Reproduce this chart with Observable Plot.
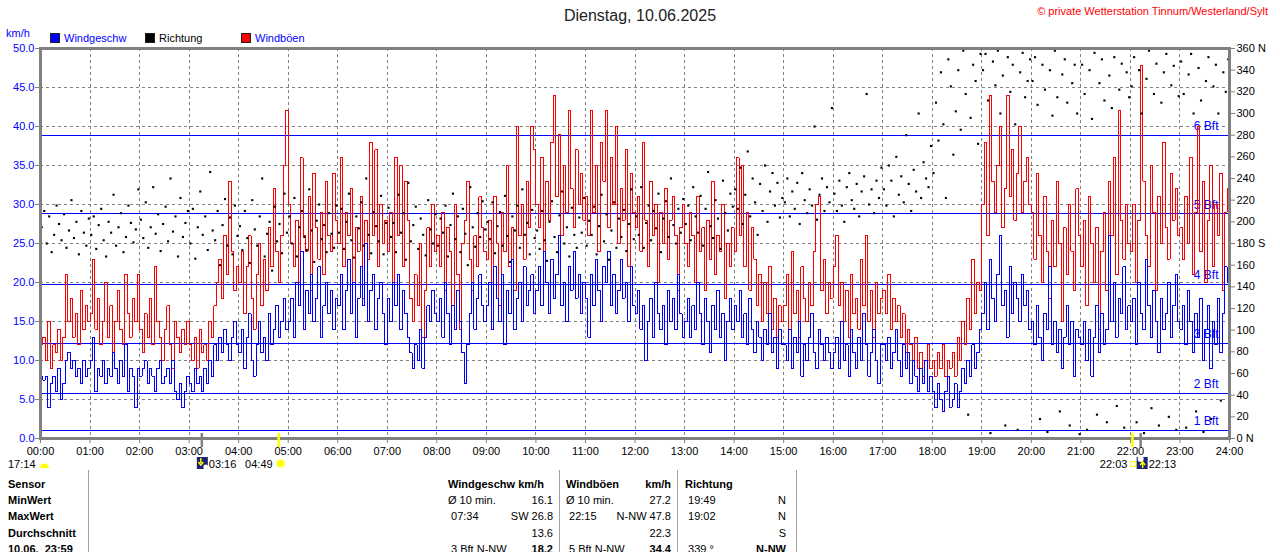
<!DOCTYPE html>
<html><head><meta charset="utf-8">
<script src="https://cdn.jsdelivr.net/npm/d3@7"></script>
<script src="https://cdn.jsdelivr.net/npm/@observablehq/plot@0.6"></script>
<style>
html,body{margin:0;padding:0;background:#fff;}
#chart{position:relative;width:1280px;height:552px;overflow:hidden;}
</style></head><body><div id="chart"></div>
<script>
const FONT = '"Liberation Sans", Arial, sans-serif';
const stepMin = 3; // one reading every 3 minutes

// Windgeschwindigkeit km/h (20 values per hour)
const windSpeed = [
8,7.5,8,4,7,8,6,9,5,7,10,11,9,10,8,9,7,10,8,9,
10,13,6,9,8,10,7,9,8,11,9,7,10,8,12,6,9,8,4,9,
8,9,10,7,9,8,6,9,10,7,8,9,7,10,6,5,7,4,6,8,
7,6,9,7,8,6,9,7,10,8,12,10,13,11,14,12,10,13,15,12,
11,14,9,13,16,10,8,12,15,11,13,10,16,12,14,17,13,15,18,14,
15,18,13,20,17,24,14,19,16,21,15,18,22,13,17,20,16,19,14,18,
17,21,14,19,23,16,20,13,18,22,17,25,15,19,21,14,18,20,16,12,
18,15,20,17,21,14,19,16,13,11,9,12,10,14,9,13,17,15,19,16,
15,18,13,20,16,12,17,14,19,15,11,7,12,16,20,14,18,21,17,15,
17,20,14,22,18,15,21,12,19,16,23,14,18,20,15,22,17,19,21,16,
19,22,17,24,20,16,23,18,21,26,17,20,15,22,19,24,18,21,16,20,
18,13,21,17,23,19,15,22,20,24,17,21,16,19,23,18,20,15,22,17,
16,19,14,17,10,15,18,13,20,16,14,17,12,19,15,18,14,21,16,13,
15,18,13,17,14,20,16,12,18,15,11,17,14,19,13,16,10,15,18,14,
17,15,19,13,16,12,18,14,11,15,13,10,14,12,16,11,13,9,14,12,
12,10,14,9,13,11,15,8,12,10,13,16,11,9,14,12,10,13,11,9,
11,13,9,15,10,12,8,14,11,9,13,10,16,12,8,11,14,10,7,12,
12,10,13,9,11,14,10,8,12,9,11,7,10,8,6,9,7,10,6,8,
6,4,7,5,3.5,6,8,4,5,7,4,6,9,7,10,8,12,9,11,14,
16,20,14,23,18,15,21,26,17,19,13,22,16,20,18,15,21,17,19,14,
15,12,17,13,10,16,14,22,12,15,11,14,9,13,17,12,15,8,14,13,
12,15,10,14,8,13,17,11,16,12,14,26,15,20,13,18,16,22,14,17,
15,18,12,20,16,14,23,17,13,19,15,11,18,14,16,20,13,17,21,15,
14,17,12,19,15,11,16,13,18,10,14,17,9,15,12,18,11,16,22,20
];

// Windböen km/h
const windGust = [
12,13,10,15,9,12,11,14,10,13,21,15,18,13,16,12,19,14,17,15,
16,23,14,18,12,15,20,13,17,11,15,19,14,12,21,16,13,18,15,21,
14,11,16,13,18,12,22,15,13,10,14,17,12,9,15,13,11,14,12,15,
12,10,13,9,14,11,12,10,15,13,17,20,23,18,26,21,33,24,19,22,
20,24,16,22,26,18,14,21,25,17,23,19,27,22,32,24,20,26,35,42,
30,25,22,28,20,36,26,24,31,19,34,27,23,29,21,33,26,24,34,28,
25,36,22,29,26,32,20,27,24,31,18,28,23,38,26,37,22,30,25,28,
24,29,20,36,26,35,22,33,28,18,15,21,17,25,13,19,27,22,30,24,
26,22,29,19,27,24,17,30,21,14,25,28,33,23,19,26,22,31,27,24,
23,28,20,31,25,17,29,24,35,22,27,19,40,26,30,23,33,27,40,37,
30,27,36,24,33,28,38,44,31,39,26,35,29,42,32,27,37,30,34,28,
31,26,42,29,35,24,38,33,42,27,36,30,40,25,32,28,37,22,34,29,
27,31,24,38,28,22,33,26,30,20,29,25,32,23,28,31,26,19,27,30,
25,22,29,26,20,31,24,27,19,28,23,33,21,26,24,30,18,25,22,27,
24,36,26,35,22,29,19,27,23,17,21,15,20,16,22,14,18,13,17,15,
17,21,14,24,16,19,13,22,18,15,20,17,24,30,31,19,23,16,20,18,
22,26,17,20,15,19,13,21,16,18,14,23,17,26,15,19,13,20,16,18,
19,16,21,14,18,15,17,13,16,11,14,12,10,13,9,11,8,10,12,9,
10,8,11,9,12,8,10,9,11,8,13,10,15,12,18,14,23,16,20,19,
30,38,26,44,33,29,35,40,27,32,44,31,37,28,34,40,29,33,36,30,
29,23,34,26,20,31,24,18,28,22,33,25,15,27,21,30,24,19,32,26,
22,28,17,31,25,20,27,14,24,29,19,33,26,36,21,42,28,23,30,25,
24,30,20,28,47.8,33,26,22,35,29,19,31,25,38,27,23,34,28,32,26,
27,23,31,25,36,21,29,40,24,33,20,28,35,22,30,26,34,19,29,32
];

// Windrichtung Grad
const windDir = [
195,210,180,205,172,188,215,198,183,207,176,192,220,185,200,170,210,190,178,203,
188,205,175,197,212,183,168,200,190,225,178,195,208,172,186,215,199,181,193,230,
202,185,218,176,195,232,189,207,173,198,214,182,240,191,205,168,222,186,199,210,
180,212,166,195,228,188,205,174,246,192,183,210,160,197,221,178,204,170,215,187,
196,174,210,185,162,220,193,178,205,240,168,189,200,155,214,182,198,171,226,190,
205,180,222,168,195,210,186,174,230,192,163,201,216,184,197,172,208,189,176,215,
190,212,175,200,226,183,167,205,194,218,178,240,188,171,209,196,182,224,170,199,
213,186,199,172,225,190,208,165,236,182,197,214,175,203,188,169,220,193,180,207,
178,203,190,215,168,197,226,184,205,172,212,189,160,232,195,177,208,186,219,193,
200,184,218,171,196,209,178,224,187,163,205,192,215,176,230,188,199,170,211,185,
192,175,210,183,164,200,219,186,172,206,228,180,195,168,213,188,176,204,190,222,
178,201,188,214,170,196,225,182,207,165,192,218,176,203,186,211,173,198,230,184,
205,188,232,176,199,215,183,210,194,226,172,203,219,186,240,197,180,212,190,221,
198,215,183,232,205,190,224,178,212,246,196,185,220,203,175,238,208,192,226,214,
230,212,250,198,225,265,205,240,218,188,235,210,252,200,228,245,215,236,204,222,
218,240,205,228,212,236,198,245,220,208,230,215,288,202,225,240,210,232,218,305,
226,210,238,215,200,232,245,220,212,235,205,228,242,318,216,230,208,238,222,250,
230,215,252,238,205,260,225,242,218,280,235,210,248,228,300,222,255,240,232,270,
245,310,275,338,290,222,350,325,262,302,340,285,358,318,22,296,345,330,272,355,
340,355,312,5,348,326,358,300,335,12,352,320,345,290,8,338,356,315,330,350,
330,352,308,18,345,322,6,340,298,358,315,25,336,350,310,12,328,345,300,4,
345,318,8,340,295,356,22,328,350,312,15,335,305,352,30,322,346,10,338,315,
325,352,15,340,300,5,332,358,28,318,346,12,310,338,355,20,326,344,8,316,
348,318,10,336,355,300,25,342,312,6,330,352,18,325,345,300,35,338,320,350
];

const hourTicks = d3.range(0, 1441, 60);
const kmhTicks = d3.range(0, 51, 5);
const dirTicks = d3.range(0, 361, 20);
const bftLevels = [1.08, 5.76, 12.24, 19.8, 28.8, 38.88];
const bftLabels = ["1 Bft", "2 Bft", "3 Bft", "4 Bft", "5 Bft", "6 Bft"];

const astroTimes = ["03:16", "04:49", "22:03", "22:13"];
const astroColors = ["#808080", "#ffff00", "#ffff00", "#808080"];

const titleText = "Dienstag, 10.06.2025";
const creditText = "© private Wetterstation Tinnum/Westerland/Sylt";
const legendNames = ["Windgeschw", "Richtung", "Windböen"];
const legendColors = ["#0000ff", "#000000", "#ff0000"];
const legendTextColors = ["#0000ff", "#000000", "#0000ff"];

const rowLabels = ["Sensor", "MinWert", "MaxWert", "Durchschnitt", "10.06.  23:59"];
const speedCol = {head: ["Windgeschw km/h", ""], left: ["Ø 10 min.", " 07:34", "", " 3 Bft N-NW"], right: ["16.1", "SW 26.8", "13.6", "18.2"]};
const gustCol = {head: ["Windböen", "km/h"], left: ["Ø 10 min.", " 22:15", "", " 5 Bft N-NW"], right: ["27.2", "N-NW 47.8", "22.3", "34.4"]};
const dirCol = {head: ["Richtung", ""], left: [" 19:49", " 19:02", "", " 339 °"], right: ["N", "N", "S", "N-NW"]};

const DIR_PER_KMH = 360 / 50;
const pad = n => String(n).padStart(2, "0");
const fmtTime = m => pad(Math.floor(m / 60)) + ":" + pad(m % 60);
const parseTime = s => { const [h, m] = s.split(":").map(Number); return h * 60 + m; };

const rows = windSpeed.map((v, i) => ({t: i * stepMin, speed: v, gust: windGust[i], dir: windDir[i]}));
const last = rows[rows.length - 1];
const lineRows = rows.concat([{t: 1440, speed: last.speed, gust: last.gust}]);

const chart = Plot.plot({
  width: 1280, height: 552,
  marginLeft: 40, marginRight: 51, marginTop: 48, marginBottom: 114,
  style: {fontFamily: FONT, fontSize: "11px", background: "#fff", color: "#000", overflow: "visible"},
  x: {domain: [0, 1440], axis: null, label: null},
  y: {domain: [0, 50], axis: null, label: null},
  marks: [
    Plot.gridX(hourTicks.slice(1, -1), {stroke: "#808080", strokeOpacity: 1, strokeDasharray: "3,3", shapeRendering: "crispEdges"}),
    Plot.gridY(kmhTicks.slice(1, -1), {stroke: "#808080", strokeOpacity: 1, strokeDasharray: "3,3", shapeRendering: "crispEdges"}),
    Plot.text(bftLevels, {x: 1440, y: d => d, text: (d, i) => bftLabels[i], textAnchor: "end", dx: -11, dy: -9, fill: "#0000ff", fontSize: 12}),
    Plot.ruleY(bftLevels, {stroke: "#0000ff", strokeWidth: 1, shapeRendering: "crispEdges"}),
    Plot.line(lineRows, {x: "t", y: "gust", curve: "step-after", stroke: "#ff0000", strokeWidth: 1, shapeRendering: "crispEdges"}),
    Plot.line(lineRows, {x: "t", y: "speed", curve: "step-after", stroke: "#0000ff", strokeWidth: 1, shapeRendering: "crispEdges"}),
    Plot.dot(rows, {x: d => d.t + 1.5, y: d => d.dir / DIR_PER_KMH, symbol: "square", r: 1.2, fill: "#000"}),
    Plot.frame({stroke: "#808080", strokeWidth: 3}),
    Plot.axisY(kmhTicks, {anchor: "left", tickFormat: d => d.toFixed(1), tickSize: 5, tickPadding: 1, fill: "#0000ff", stroke: "#808080", fontSize: 11}),
    Plot.axisY(dirTicks.map(d => d / DIR_PER_KMH), {anchor: "right", tickSize: 5, tickPadding: 2, fill: "#000", stroke: "#808080", fontSize: 11,
      tickFormat: v => { const d = Math.round(v * DIR_PER_KMH); return (d === 0 || d === 360) ? d + " N" : d === 180 ? "180 S" : String(d); }}),
    Plot.axisX(hourTicks, {anchor: "bottom", tickFormat: fmtTime, tickSize: 5, tickPadding: 4, fill: "#000", stroke: "#808080", fontSize: 11})
  ]
});
document.getElementById("chart").appendChild(chart);

const xs = chart.scale("x"), ys = chart.scale("y");
const X = t => xs.apply(t), Y = v => ys.apply(v);
const svg = d3.select(chart);
const g = svg.append("g").attr("font-family", FONT).attr("font-size", 11);
function txt(x, y, s, o = {}) {
  const t = g.append("text").attr("x", x).attr("y", y).attr("fill", o.fill || "#000")
    .attr("text-anchor", o.anchor || "start").attr("font-size", o.size || 11)
    .style("white-space", "pre").attr("xml:space", "preserve").text(s);
  if (o.bold) t.attr("font-weight", "bold");
  return t;
}

// header
txt(640, 21, titleText, {anchor: "middle", size: 16, fill: "#222"});
txt(1268, 15, creditText, {anchor: "end", fill: "#ff0000"});
txt(6, 37, "km/h", {fill: "#0000ff"});
const legX = [50, 145, 241];
legendNames.forEach((n, i) => {
  g.append("rect").attr("x", legX[i] + 0.5).attr("y", 33.5).attr("width", 9).attr("height", 9)
    .attr("fill", legendColors[i]).attr("stroke", "#202020").attr("stroke-width", 1);
  txt(legX[i] + 14, 42, n, {fill: legendTextColors[i]});
});

// astro markers on time axis
const y0 = Y(0);
astroTimes.forEach((s, i) => {
  const xx = X(parseTime(s));
  g.append("line").attr("x1", xx).attr("x2", xx).attr("y1", y0 - 5).attr("y2", y0 + 9)
    .attr("stroke", astroColors[i]).attr("stroke-width", 2.5);
});
const rowY = y0 + 30;
txt(8, rowY, "17:14");
g.append("path").attr("d", `M40,${rowY} a4.5,4.5 0 0 1 9,0 z`).attr("fill", "#ffff00");
// moon icon 03:16
{
  const xx = X(parseTime(astroTimes[0]));
  g.append("rect").attr("x", xx - 5).attr("y", rowY - 11).attr("width", 11).attr("height", 12).attr("fill", "#1c2470");
  g.append("path").attr("d", `M${xx - 1},${rowY - 10} v5 M${xx - 3.5},${rowY - 6} l2.5,3 l2.5,-3`).attr("stroke", "#ffff00").attr("stroke-width", 1.5).attr("fill", "none");
  g.append("circle").attr("cx", xx + 4).attr("cy", rowY - 1).attr("r", 2.5).attr("fill", "#fff");
  txt(xx + 7, rowY, astroTimes[0]);
}
// sun icon 04:49
{
  const xx = X(parseTime(astroTimes[1]));
  txt(xx - 6, rowY, astroTimes[1], {anchor: "end"});
  g.append("circle").attr("cx", xx + 2).attr("cy", rowY - 4.5).attr("r", 5).attr("fill", "#ffffb0");
  g.append("circle").attr("cx", xx + 2).attr("cy", rowY - 4.5).attr("r", 3.5).attr("fill", "#ffff00");
}
// sunset 22:03 and moon 22:13
{
  const xa = X(parseTime(astroTimes[2]));
  txt(xa - 5, rowY, astroTimes[2], {anchor: "end"});
  g.append("rect").attr("x", xa - 1.5).attr("y", rowY - 6.5).attr("width", 5).attr("height", 5).attr("fill", "none").attr("stroke", "#ffff00");
  const xb = X(parseTime(astroTimes[3]));
  g.append("rect").attr("x", xb - 4).attr("y", rowY - 11).attr("width", 11).attr("height", 12).attr("fill", "#1c2470");
  g.append("circle").attr("cx", xb).attr("cy", rowY - 9).attr("r", 3).attr("fill", "#fff");
  g.append("path").attr("d", `M${xb + 2},${rowY} v-5 M${xb - 0.5},${rowY - 3} l2.5,-3 l2.5,3`).attr("stroke", "#ffff00").attr("stroke-width", 1.5).attr("fill", "none");
  txt(xb + 8, rowY, astroTimes[3]);
}

// table
const tTop = y0 + 32, rowH = 16.2, base0 = y0 + 50;
[88, 559, 677, 796].forEach(x => {
  g.append("line").attr("x1", x + 0.5).attr("x2", x + 0.5).attr("y1", tTop).attr("y2", 552).attr("stroke", "#a0a0a0").attr("stroke-width", 1);
});
rowLabels.forEach((s, i) => txt(8, base0 + i * rowH, s, {bold: true}));
function column(col, xl, xr) {
  txt(xl, base0, col.head[0], {bold: true});
  if (col.head[1]) txt(xr, base0, col.head[1], {bold: true, anchor: "end"});
  col.left.forEach((s, i) => { if (s) txt(xl, base0 + (i + 1) * rowH, s); });
  col.right.forEach((s, i) => txt(xr, base0 + (i + 1) * rowH, s, {anchor: "end", bold: i === 3}));
}
column(speedCol, 448, 553);
column(gustCol, 566, 671);
column(dirCol, 685, 786);
</script>
</body></html>
